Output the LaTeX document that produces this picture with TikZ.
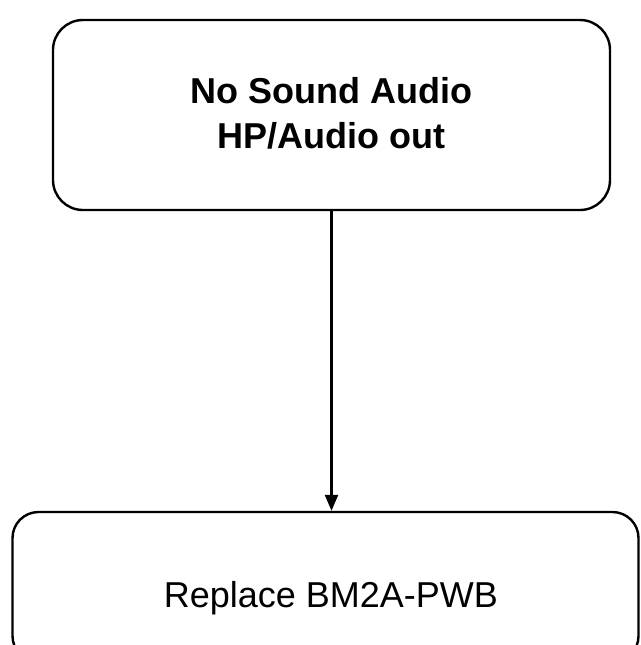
\documentclass[tikz,border=0pt]{standalone}
\usepackage{fontspec}
\setmainfont{Liberation Sans}
\usetikzlibrary{arrows.meta}
\begin{document}
\begin{tikzpicture}[x=1pt,y=-1pt]
\tikzset{
  box/.style={draw=black, line width=2.4pt, rounded corners=30pt, inner sep=0pt},
  conn/.style={draw=black, line width=2.4pt, -{Triangle[length=16pt,width=13pt]}}}
\useasboundingbox (0,0) rectangle (640,645);
\begin{scope}
\clip (0,0) rectangle (640,645);
\node[box, minimum width=557pt, minimum height=190pt] (a) at (331.5,115) {};
\node[align=center, font=\bfseries\fontsize{36}{45}\selectfont] (at) at (331.5,113) {No Sound Audio\\HP/Audio out};
\node[box, rounded corners=26pt, minimum width=626pt, minimum height=150pt] (b) at (325.5,587) {};
\node[font=\fontsize{36}{43}\selectfont] (bt) at (331,598) {Replace BM2A-PWB};
\draw[conn] (a.south) -- (a.south |- b.north);
\end{scope}
\end{tikzpicture}
\end{document}
